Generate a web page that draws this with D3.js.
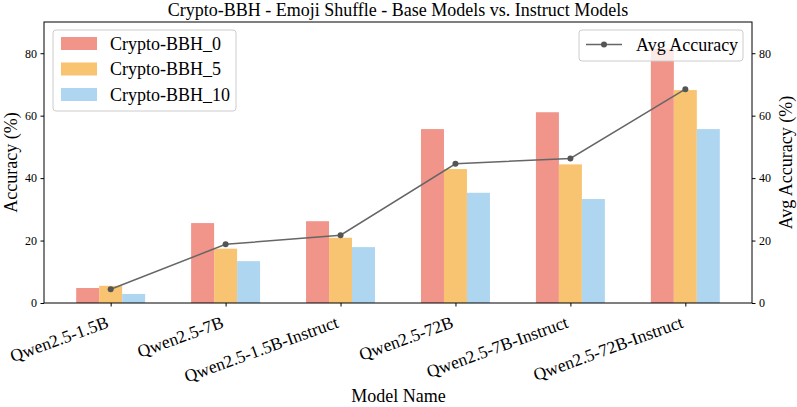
<!DOCTYPE html>
<html>
<head>
<meta charset="utf-8">
<script src="https://cdn.jsdelivr.net/npm/d3@7"></script>
<style>
  body { margin: 0; background: #fff; }
  svg text { font-family: "Liberation Serif", "Times New Roman", serif; fill: #000; }
</style>
</head>
<body>
<div id="chart"></div>
<script>
var models = ['Qwen2.5-1.5B', 'Qwen2.5-7B', 'Qwen2.5-1.5B-Instruct', 'Qwen2.5-72B', 'Qwen2.5-7B-Instruct', 'Qwen2.5-72B-Instruct'];
var seriesNames = ['Crypto-BBH_0', 'Crypto-BBH_5', 'Crypto-BBH_10'];
var bbh0 = [4.8, 25.6, 26.2, 55.7, 61.1, 81.5];
var bbh5 = [5.5, 17.4, 20.9, 42.9, 44.4, 68.2];
var bbh10 = [2.9, 13.4, 17.9, 35.3, 33.3, 55.7];
var avgAcc = [4.4, 18.8, 21.7, 44.6, 46.3, 68.5];
var yTicks = [0, 20, 40, 60, 80];
var colors = ['#F1948A', '#F8C471', '#AED6F1'];

var width = 797, height = 407;
var plotL = 44, plotR = 752, plotT = 22, plotB = 303;

var svg = d3.select('#chart').append('svg')
    .attr('width', width)
    .attr('height', height);

// x in "category units" like matplotlib: -0.58 .. 5.58
var x = d3.scaleLinear().domain([-0.58, 5.58]).range([plotL, plotR]);
var y = d3.scaleLinear().domain([0, 90]).range([plotB, plotT]);
var barW = 0.2;

var series = [bbh0, bbh5, bbh10];

series.forEach(function (vals, s) {
  svg.append('g').selectAll('rect')
      .data(vals)
      .enter()
      .append('rect')
      .attr('x', function (d, i) { return x(i + (s - 1) * barW - barW / 2); })
      .attr('width', x(barW) - x(0))
      .attr('y', function (d) { return y(d); })
      .attr('height', function (d) { return y(0) - y(d); })
      .attr('fill', colors[s]);
});

// avg line
var line = d3.line()
    .x(function (d, i) { return x(i); })
    .y(function (d) { return y(d); });
svg.append('path')
    .datum(avgAcc)
    .attr('d', line)
    .attr('fill', 'none')
    .attr('stroke', '#666')
    .attr('stroke-width', 1.5);
svg.append('g').selectAll('circle')
    .data(avgAcc)
    .enter()
    .append('circle')
    .attr('cx', function (d, i) { return x(i); })
    .attr('cy', function (d) { return y(d); })
    .attr('r', 3)
    .attr('fill', '#555');

// frame
svg.append('rect')
    .attr('x', plotL).attr('y', plotT)
    .attr('width', plotR - plotL).attr('height', plotB - plotT)
    .attr('fill', 'none').attr('stroke', '#000').attr('stroke-width', 1);

// left axis
var yAxisL = d3.axisLeft(y).tickValues(yTicks).tickSize(3.5).tickPadding(3.5);
var gl = svg.append('g').attr('transform', 'translate(' + plotL + ',0)').call(yAxisL);
gl.attr('font-family', null);
gl.select('.domain').remove();
gl.selectAll('text').attr('font-size', 12);
gl.selectAll('line').attr('stroke', '#000');

var yAxisR = d3.axisRight(y).tickValues(yTicks).tickSize(3.5).tickPadding(3.5);
var gr = svg.append('g').attr('transform', 'translate(' + plotR + ',0)').call(yAxisR);
gr.attr('font-family', null);
gr.select('.domain').remove();
gr.selectAll('text').attr('font-size', 12);
gr.selectAll('line').attr('stroke', '#000');

// bottom axis
var xAxis = d3.axisBottom(x).tickValues(d3.range(models.length)).tickSize(3.5).tickFormat('');
var gx = svg.append('g').attr('transform', 'translate(0,' + plotB + ')').call(xAxis);
gx.select('.domain').remove();
gx.selectAll('line').attr('stroke', '#000');

svg.append('g').selectAll('text')
    .data(models)
    .enter()
    .append('text')
    .attr('transform', function (d, i) {
      return 'translate(' + (x(i) - 1) + ',' + (plotB + 24) + ') rotate(-20)';
    })
    .attr('text-anchor', 'end')
    .attr('font-size', 17.5)
    .text(function (d) { return d; });

// titles and labels
svg.append('text')
    .attr('x', (plotL + plotR) / 2).attr('y', 16)
    .attr('text-anchor', 'middle')
    .attr('font-size', 18)
    .text('Crypto-BBH - Emoji Shuffle - Base Models vs. Instruct Models');

svg.append('text')
    .attr('x', width / 2).attr('y', 402)
    .attr('text-anchor', 'middle')
    .attr('font-size', 18)
    .text('Model Name');

svg.append('text')
    .attr('transform', 'translate(17,' + ((plotT + plotB) / 2) + ') rotate(-90)')
    .attr('text-anchor', 'middle')
    .attr('font-size', 18)
    .text('Accuracy (%)');

svg.append('text')
    .attr('transform', 'translate(792,' + ((plotT + plotB) / 2) + ') rotate(-90)')
    .attr('text-anchor', 'middle')
    .attr('font-size', 18)
    .text('Avg Accuracy (%)');

// legend 1
var leg1 = svg.append('g').attr('transform', 'translate(53,30)');
leg1.append('rect')
    .attr('width', 183).attr('height', 81).attr('rx', 3)
    .attr('fill', 'rgba(255,255,255,0.8)').attr('stroke', '#ccc');
var items = leg1.selectAll('g.item')
    .data(seriesNames)
    .enter()
    .append('g')
    .attr('transform', function (d, i) { return 'translate(0,' + (13.5 + i * 25.5) + ')'; });
items.append('rect')
    .attr('x', 8).attr('y', -6.5).attr('width', 36).attr('height', 13)
    .attr('fill', function (d, i) { return colors[i]; });
items.append('text')
    .attr('x', 57).attr('y', 0)
    .attr('dominant-baseline', 'central')
    .attr('font-size', 18)
    .text(function (d) { return d; });

// legend 2
var leg2 = svg.append('g').attr('transform', 'translate(579,30)');
leg2.append('rect')
    .attr('width', 164).attr('height', 31).attr('rx', 3)
    .attr('fill', 'rgba(255,255,255,0.8)').attr('stroke', '#ccc');
leg2.append('line')
    .attr('x1', 7).attr('x2', 43).attr('y1', 14.5).attr('y2', 14.5)
    .attr('stroke', '#666').attr('stroke-width', 1.5);
leg2.append('circle')
    .attr('cx', 25).attr('cy', 14.5).attr('r', 3).attr('fill', '#555');
leg2.append('text')
    .attr('x', 57).attr('y', 14.5)
    .attr('dominant-baseline', 'central')
    .attr('font-size', 18)
    .text('Avg Accuracy');
</script>
</body>
</html>
